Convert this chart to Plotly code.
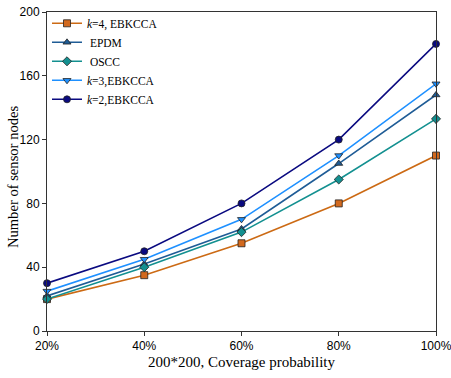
import plotly.graph_objects as go

coverage = [20, 40, 60, 80, 100]
tick_labels = ["20%", "40%", "60%", "80%", "100%"]

k4_ebkcca = [20, 35, 55, 80, 110]
epdm = [22, 42, 64, 105, 148]
oscc = [20, 40, 62, 95, 133]
k3_ebkcca = [25, 45, 70, 110, 155]
k2_ebkcca = [30, 50, 80, 120, 180]

series = [
    ("<i>k</i>=4, EBKCCA", k4_ebkcca, "#CC6A14", "#D2691E", "square"),
    ("\u00a0EPDM", epdm, "#1F5C96", "#1F5C96", "triangle-up"),
    ("\u00a0OSCC", oscc, "#139090", "#139090", "diamond"),
    ("<i>k</i>=3,EBKCCA", k3_ebkcca, "#1E90FF", "#1E90FF", "triangle-down"),
    ("<i>k</i>=2,EBKCCA", k2_ebkcca, "#0A0A80", "#0A0A80", "circle"),
]

fig = go.Figure()
for name, vals, line_c, fill_c, sym in series:
    fig.add_trace(go.Scatter(
        x=coverage, y=vals, name=name, mode="lines+markers",
        line=dict(color=line_c, width=1.6),
        marker=dict(symbol=sym, size=7, color=fill_c,
                    line=dict(color="#222222", width=0.8)),
        cliponaxis=False,
    ))

fig.update_layout(
    width=451, height=378,
    margin=dict(l=47, r=15, t=12, b=47, autoexpand=False),
    paper_bgcolor="white", plot_bgcolor="white",
    showlegend=True,
    legend=dict(
        x=0.0, y=1.01, xanchor="left", yanchor="top",
        bgcolor="rgba(0,0,0,0)",
        font=dict(family="Liberation Serif", size=11.5, color="black"),
        tracegroupgap=0, itemwidth=30,
    ),
    font=dict(family="Liberation Sans", color="black"),
    annotations=[dict(
        text="Number of sensor nodes", textangle=-90,
        xref="paper", yref="paper", x=-0.087, y=0.483,
        xanchor="center", yanchor="middle", showarrow=False,
        font=dict(family="Liberation Serif", size=14.6, color="black"),
    )],
)

fig.update_xaxes(
    range=[20, 100], tickvals=coverage, ticktext=tick_labels,
    showgrid=False, zeroline=False, automargin=False,
    ticklabeloverflow="allow",
    showline=True, linecolor="#333333", linewidth=1, mirror=True,
    ticks="outside", ticklen=4, tickcolor="#333333",
    tickfont=dict(family="Liberation Sans", size=12, color="black"),
    title=dict(text="200*200, Coverage probability",
               font=dict(family="Liberation Serif", size=15, color="black"),
               standoff=4),
)
fig.update_yaxes(
    range=[0, 200], tickvals=[0, 40, 80, 120, 160, 200],
    showgrid=False, zeroline=False, automargin=False,
    ticklabeloverflow="allow",
    showline=True, linecolor="#333333", linewidth=1, mirror=True,
    ticks="outside", ticklen=4, tickcolor="#333333",
    tickfont=dict(family="Liberation Sans", size=12, color="black"),
)

fig.write_html("out.html")
